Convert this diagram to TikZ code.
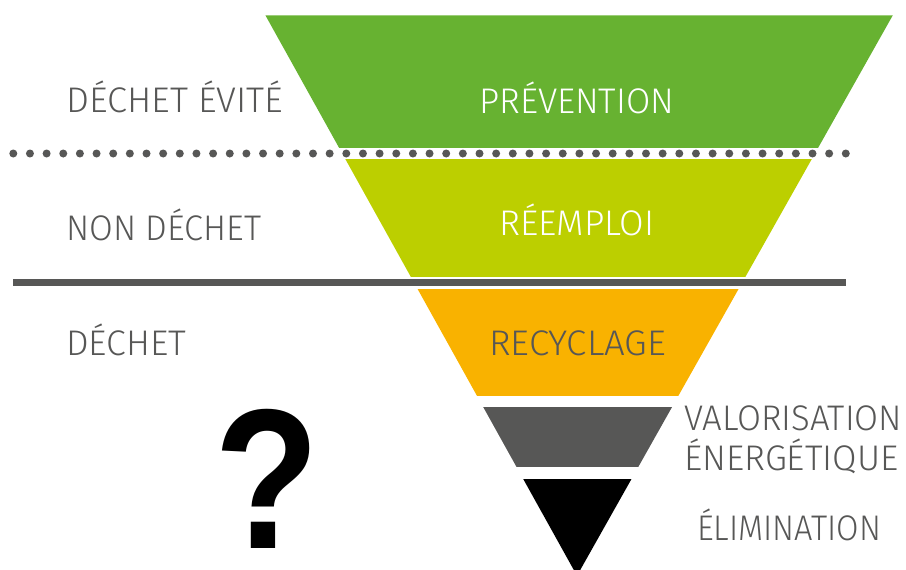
\documentclass[tikz,border=0pt]{standalone}
\usepackage{fontspec}
\usepackage{graphicx}
\setmainfont{Fira Sans Light}
\newfontfamily\qfont{Liberation Sans}
\definecolor{cgreen}{RGB}{103,178,49}
\definecolor{cyg}{RGB}{188,207,0}
\definecolor{corange}{RGB}{249,178,0}
\definecolor{cgray}{RGB}{87,87,86}
\tikzset{
  lab/.style={inner sep=0pt, anchor=base west, text=cgray, font=\fontsize{35.6}{40}\selectfont},
  wlab/.style={lab, text=white},
}
\begin{document}
\begin{tikzpicture}[x=1pt,y=-1pt]
\useasboundingbox (0,0) rectangle (906,570);
% funnel
\begin{scope}
  \clip (265.4,15.3) -- (892.8,15.3) -- (577.0,575.7) -- cycle;
  \fill[cgreen]  (0,15.3)  rectangle (906,148);
  \fill[cyg]     (0,159)   rectangle (906,277);
  \fill[corange] (0,289.3) rectangle (906,396);
  \fill[cgray]   (0,407.3) rectangle (906,467.3);
  \fill[black]   (0,479)   rectangle (906,580);
\end{scope}
% separators
\foreach \i in {0,...,50} \fill[cgray] (13.3+16.65*\i,153.5) circle (4);
\draw[cgray, line width=6.7pt] (13,282.6) -- (846,282.6);
% labels
\node[lab]  (evite)  at (66,112.7)  {\resizebox{217pt}{\height}{DÉCHET ÉVITÉ}};
\node[wlab] (prev)   at (479,113.3) {\resizebox{195pt}{\height}{PRÉVENTION}};
\node[lab]  (nondec) at (66,240.7)  {\resizebox{195pt}{\height}{NON DÉCHET}};
\node[wlab] (reemp)  at (499,235)   {\resizebox{155pt}{\height}{RÉEMPLOI}};
\node[lab]  (dechet) at (66,355)    {\resizebox{120pt}{\height}{DÉCHET}};
\node[lab]  (recyc)  at (489,355)   {\resizebox{177pt}{\height}{RECYCLAGE}};
\node[lab]  (valor)  at (684,430.7) {\resizebox{218pt}{\height}{VALORISATION}};
\node[lab]  (energ)  at (684,470)   {\resizebox{214pt}{\height}{ÉNERGÉTIQUE}};
\node[lab]  (elim)   at (697,540)   {\resizebox{184pt}{\height}{ÉLIMINATION}};
% question mark
\node[inner sep=0pt, anchor=base west] (q) at (214,548.3) {\resizebox{105pt}{139pt}{\qfont\bfseries ?}};
\end{tikzpicture}
\end{document}
